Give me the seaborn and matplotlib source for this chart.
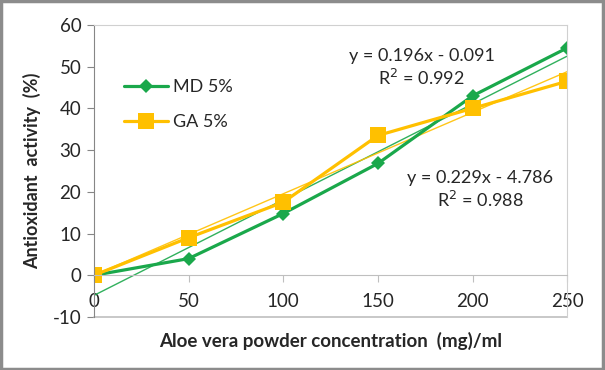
import numpy as np
import pandas as pd
import matplotlib
matplotlib.use("Agg")
import matplotlib.pyplot as plt
from matplotlib.patches import Rectangle
import seaborn as sns

concentration = [0, 50, 100, 150, 200, 250]
md_activity = [0, 4, 14.8, 26.8, 43, 54.5]
ga_activity = [0, 9, 17.5, 33.5, 40, 46.5]
series_names = ["MD 5%", "GA 5%"]
y_ticks = [-10, 0, 10, 20, 30, 40, 50, 60]
x_ticks = [0, 50, 100, 150, 200, 250]
eq_labels = ["y = 0.196x - 0.091\nR$^2$ = 0.992", "y = 0.229x - 4.786\nR$^2$ = 0.988"]

green = "#1aa84b"
yellow = "#ffc000"

df = pd.DataFrame({
    "conc": concentration * 2,
    "activity": md_activity + ga_activity,
    "series": [series_names[0]] * 6 + [series_names[1]] * 6,
})

sns.set_style("white")
plt.rcParams["font.family"] = ["Lato", "DejaVu Sans"]
plt.rcParams["axes.unicode_minus"] = False

fig = plt.figure(figsize=(6.05, 3.70), dpi=100)
ax = fig.add_axes([0.155, 0.143, 0.783, 0.79])

# thin linear trendlines
sns.regplot(data=df[df.series == "MD 5%"], x="conc", y="activity", ax=ax, ci=None,
            scatter=False, line_kws=dict(color=green, lw=1.0, alpha=0.9))
sns.regplot(data=df[df.series == "GA 5%"], x="conc", y="activity", ax=ax, ci=None,
            scatter=False, line_kws=dict(color=yellow, lw=1.0, alpha=0.9))

sns.lineplot(data=df, x="conc", y="activity", hue="series", style="series",
             markers={"MD 5%": "D", "GA 5%": "s"}, dashes=False,
             palette={"MD 5%": green, "GA 5%": yellow}, ax=ax, lw=2.3,
             markersize=8, markeredgewidth=0)
for line in ax.lines:
    if line.get_marker() == "s":
        line.set_markersize(11)
    if line.get_marker() == "D":
        line.set_markersize(7.5)

ax.set_xlim(0, 250)
ax.set_ylim(-10, 60)
ax.set_yticks(y_ticks)
ax.set_xticks(x_ticks)
ax.tick_params(axis="y", direction="out", length=5, width=0.8, color="#868686",
               labelsize=13.5, pad=4, left=True)
ax.tick_params(axis="x", direction="out", length=5, width=0.8, color="#bfbfbf",
               labelsize=13.5, pad=8, bottom=True)
ax.spines["bottom"].set_position(("data", 0))
ax.spines["bottom"].set_color("#bfbfbf")
ax.spines["left"].set_color("#868686")
for s in ["top", "right"]:
    ax.spines[s].set_color("#d0d0d0")
ax.axhline(-10, color="#bfbfbf", lw=1.2, clip_on=False)
for lab in ax.get_xticklabels() + ax.get_yticklabels():
    lab.set_color("#262626")

ax.set_xlabel("Aloe vera powder concentration  (mg)/ml", fontsize=13.5, fontweight="bold")
ax.xaxis.set_label_coords(0.5, -0.052)
ax.set_ylabel("Antioxidant  activity  (%)", fontsize=13, fontweight="bold", labelpad=8)

ax.text(173, 49.7, eq_labels[0], ha="center", va="center", fontsize=13,
        color="#262626", linespacing=1.2)
ax.text(204, 20.4, eq_labels[1], ha="center", va="center", fontsize=13,
        color="#262626", linespacing=1.2)

leg = ax.legend(loc="upper left", bbox_to_anchor=(0.03, 0.87), frameon=False,
                fontsize=13, handlelength=2.4, labelspacing=1.05, handletextpad=0.3)
for h in leg.legend_handles:
    h.set_linewidth(2.3)

fig.add_artist(Rectangle((0.002, 0.003), 0.994, 0.993, transform=fig.transFigure,
                         fill=False, edgecolor="#8c8c8c", lw=2.5))

fig.savefig("out.png", dpi=100)
